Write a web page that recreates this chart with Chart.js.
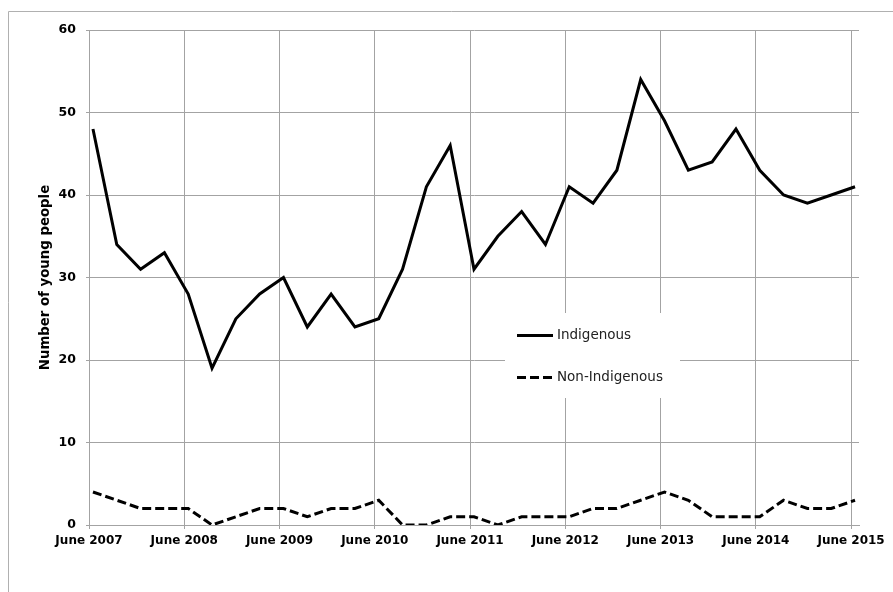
<!DOCTYPE html>
<html>
<head>
<meta charset="utf-8">
<script src="https://cdn.jsdelivr.net/npm/chart.js@4"></script>
<style>
  html, body { margin: 0; padding: 0; background: #fff; }
  #wrap { width: 893px; height: 592px; position: relative; }
</style>
</head>
<body>
<div id="wrap"><canvas id="c" width="893" height="592"></canvas></div>
<script>
// ---- data ----
const quarters = [
  'Jun 2007','Sep 2007','Dec 2007','Mar 2008',
  'Jun 2008','Sep 2008','Dec 2008','Mar 2009',
  'Jun 2009','Sep 2009','Dec 2009','Mar 2010',
  'Jun 2010','Sep 2010','Dec 2010','Mar 2011',
  'Jun 2011','Sep 2011','Dec 2011','Mar 2012',
  'Jun 2012','Sep 2012','Dec 2012','Mar 2013',
  'Jun 2013','Sep 2013','Dec 2013','Mar 2014',
  'Jun 2014','Sep 2014','Dec 2014','Mar 2015',
  'Jun 2015'
];
const indigenous = [48,34,31,33,28,19,25,28,30,24,28,24,25,31,41,46,31,35,38,34,41,39,43,54,49,43,44,48,43,40,39,40,41];
const nonIndigenous = [4,3,2,2,2,0,1,2,2,1,2,2,3,0,0,1,1,0,1,1,1,2,2,3,4,3,1,1,1,3,2,2,3];
const tickLabels = ['June 2007','June 2008','June 2009','June 2010','June 2011','June 2012','June 2013','June 2014','June 2015'];
const seriesNames = ['Indigenous','Non-Indigenous'];
const yTicks = [0,10,20,30,40,50,60];

// month slots: each quarter's point sits in the middle of its month slot
const toPts = arr => arr.map((v, i) => ({ x: i * 3 + 0.5, y: v }));

const gridColor = '#a3a3a3';

const frame = {
  id: 'frame',
  beforeDraw(chart) {
    const ctx = chart.ctx;
    ctx.save();
    ctx.strokeStyle = '#b0b0b0';
    ctx.lineWidth = 1;
    ctx.beginPath();
    ctx.moveTo(8.5, 600);
    ctx.lineTo(8.5, 11.5);
    ctx.lineTo(900, 11.5);
    ctx.stroke();
    ctx.restore();
  }
};

const innerLegend = {
  id: 'innerLegend',
  afterDraw(chart) {
    const ctx = chart.ctx;
    const left = 505, top = 313, right = 680, bottom = 398;
    ctx.save();
    ctx.fillStyle = '#fff';
    ctx.fillRect(left, top, right - left, bottom - top);
    const rows = [335, 377];
    chart.data.datasets.forEach((ds, i) => {
      const y = rows[i];
      ctx.strokeStyle = ds.borderColor;
      ctx.lineWidth = 3;
      ctx.setLineDash(ds.borderDash || []);
      ctx.beginPath();
      ctx.moveTo(517, y + 0.5);
      ctx.lineTo(553, y + 0.5);
      ctx.stroke();
      ctx.setLineDash([]);
      ctx.fillStyle = '#222';
      ctx.font = '13.5px "DejaVu Sans", Verdana, sans-serif';
      ctx.textBaseline = 'middle';
      ctx.textAlign = 'left';
      ctx.fillText(ds.label, 557, y);
    });
    ctx.restore();
  }
};

new Chart(document.getElementById('c'), {
  type: 'line',
  data: {
    datasets: [
      { label: seriesNames[0], data: toPts(indigenous), borderColor: '#000', borderWidth: 3, pointRadius: 0, tension: 0, fill: false },
      { label: seriesNames[1], data: toPts(nonIndigenous), borderColor: '#000', borderWidth: 3, borderDash: [9, 4], pointRadius: 0, tension: 0, fill: false }
    ]
  },
  options: {
    responsive: false,
    animation: false,
    devicePixelRatio: 1,
    layout: { padding: { top: 30, right: 34, bottom: 0, left: 0 } },
    plugins: { legend: { display: false }, tooltip: { enabled: false } },
    scales: {
      x: {
        type: 'linear',
        min: 0,
        max: 97,
        afterBuildTicks(scale) { scale.ticks = tickLabels.map((_, i) => ({ value: i * 12 })); },
        afterFit(scale) { scale.height = 592 - 30 - 495; },
        ticks: {
          autoSkip: false,
          maxRotation: 0,
          padding: 5,
          color: '#000',
          font: { family: '"DejaVu Sans", Verdana, sans-serif', size: 12, weight: 'bold' },
          callback: (v) => tickLabels[Math.round(v / 12)]
        },
        grid: { color: gridColor, lineWidth: 1, tickLength: 4 },
        border: { color: gridColor }
      },
      y: {
        min: 0,
        max: 60,
        afterBuildTicks(scale) { scale.ticks = yTicks.map(v => ({ value: v })); },
        afterFit(scale) { scale.width = 89; },
        ticks: {
          padding: 10,
          color: '#000',
          font: { family: '"DejaVu Sans", Verdana, sans-serif', size: 12.5, weight: 'bold' }
        },
        grid: { color: gridColor, lineWidth: 1, tickLength: 3 },
        border: { color: gridColor },
        title: {
          display: true,
          text: 'Number of young people',
          color: '#000',
          font: { family: '"DejaVu Sans", Verdana, sans-serif', size: 13.3, weight: 'bold' },
          padding: { top: 38, bottom: 0 }
        }
      }
    }
  },
  plugins: [frame, innerLegend]
});
</script>
</body>
</html>
